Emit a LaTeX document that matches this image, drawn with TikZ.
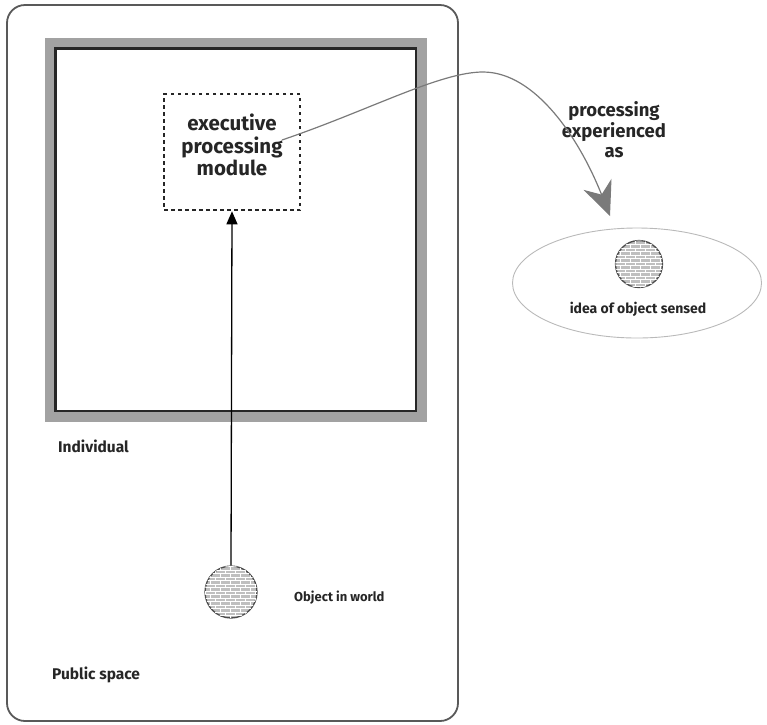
\documentclass[tikz,border=0pt]{standalone}
\usepackage{fontspec}
\setmainfont{Fira Sans}
\usetikzlibrary{arrows.meta,patterns,shapes.geometric}
\definecolor{framegray}{HTML}{A2A2A2}
\definecolor{linegray}{HTML}{7A7A7A}
% fine brick texture: white mortar lines on grey
\pgfdeclarepatternformonly{smallbricks}{\pgfqpoint{-0.5pt}{-0.5pt}}{\pgfqpoint{10.5pt}{7.5pt}}{\pgfqpoint{10pt}{7pt}}{%
  \pgfsetlinewidth{1pt}%
  \pgfpathmoveto{\pgfqpoint{0pt}{0pt}}\pgfpathlineto{\pgfqpoint{10pt}{0pt}}%
  \pgfpathmoveto{\pgfqpoint{0pt}{3.5pt}}\pgfpathlineto{\pgfqpoint{10pt}{3.5pt}}%
  \pgfpathmoveto{\pgfqpoint{0pt}{0pt}}\pgfpathlineto{\pgfqpoint{0pt}{3.5pt}}%
  \pgfpathmoveto{\pgfqpoint{5pt}{3.5pt}}\pgfpathlineto{\pgfqpoint{5pt}{7pt}}%
  \pgfusepath{stroke}}
\tikzset{
  lbl/.style={font=\bfseries\fontsize{14}{16}\selectfont, text=black!85, inner sep=0pt},
  arealabel/.style={font=\bfseries\fontsize{15.5}{18}\selectfont, text=black!85, inner sep=0pt},
  bigl/.style={font=\bfseries\fontsize{20.5}{22.5}\selectfont, text=black!85, align=center, inner sep=0pt},
  midl/.style={font=\bfseries\fontsize{18.5}{20.5}\selectfont, text=black!85, align=center, inner sep=0pt},
  ball/.style={circle, draw=black!70, line width=1.3pt, fill=gray!50,
    postaction={pattern=smallbricks, pattern color=white}, inner sep=0pt},
}
\begin{document}
\begin{tikzpicture}[x=1pt,y=-1pt]
\useasboundingbox (0,0) rectangle (767,724);
% public space boundary
\draw[black!65, line width=1.8pt, rounded corners=18pt] (7,5) rectangle (458,721);
% individual: grey frame with black inner border
\draw[framegray, line width=10pt] (50,43) rectangle (422,417);
\draw[black!85, line width=2.5pt] (55.5,48.5) rectangle (416,411);
% executive processing module
\node[draw=black!85, dash pattern=on 3.5pt off 3.5pt, line width=2.6pt,
      minimum width=136pt, minimum height=116pt, inner sep=0pt] (epm) at (232,152) {};
\node[bigl] (epmlabel) at (232,145) {executive\\processing\\module};
\coordinate (curvestart) at (282,140);
% object in world
\node[ball, minimum size=52pt] (obj) at (231,592) {};
\node[lbl, font=\bfseries\fontsize{13}{15}\selectfont, anchor=west] (objlabel) at (294,598) {Object in world};
% percept
\node[ellipse, draw=gray!55, line width=0.9pt, minimum width=249pt, minimum height=110pt] (idea) at (637,283) {};
\node[ball, minimum size=47pt] (ideaball) at (639,264) {};
\node[lbl] (idealabel) at (638,309) {idea of object sensed};
\coordinate (tip) at (610,216);
% captions
\node[midl] (exp) at (614,130) {processing\\experienced\\as};
\node[arealabel, anchor=west] (indiv) at (58,446) {Individual};
\node[arealabel, anchor=west] (pub) at (52,675) {Public space};
% connectors
\draw[black, line width=1.3pt, -{Triangle[length=13pt,width=11pt]}] (obj.north) -- (epm.south);
\draw[linegray, line width=1.2pt, -{Stealth[length=34pt,width=30pt,inset=11pt,fill=linegray]}]
  (curvestart) .. controls (370,110) and (440,72) .. (483,72)
  .. controls (536,72) and (580,140) .. (tip);
\end{tikzpicture}
\end{document}
